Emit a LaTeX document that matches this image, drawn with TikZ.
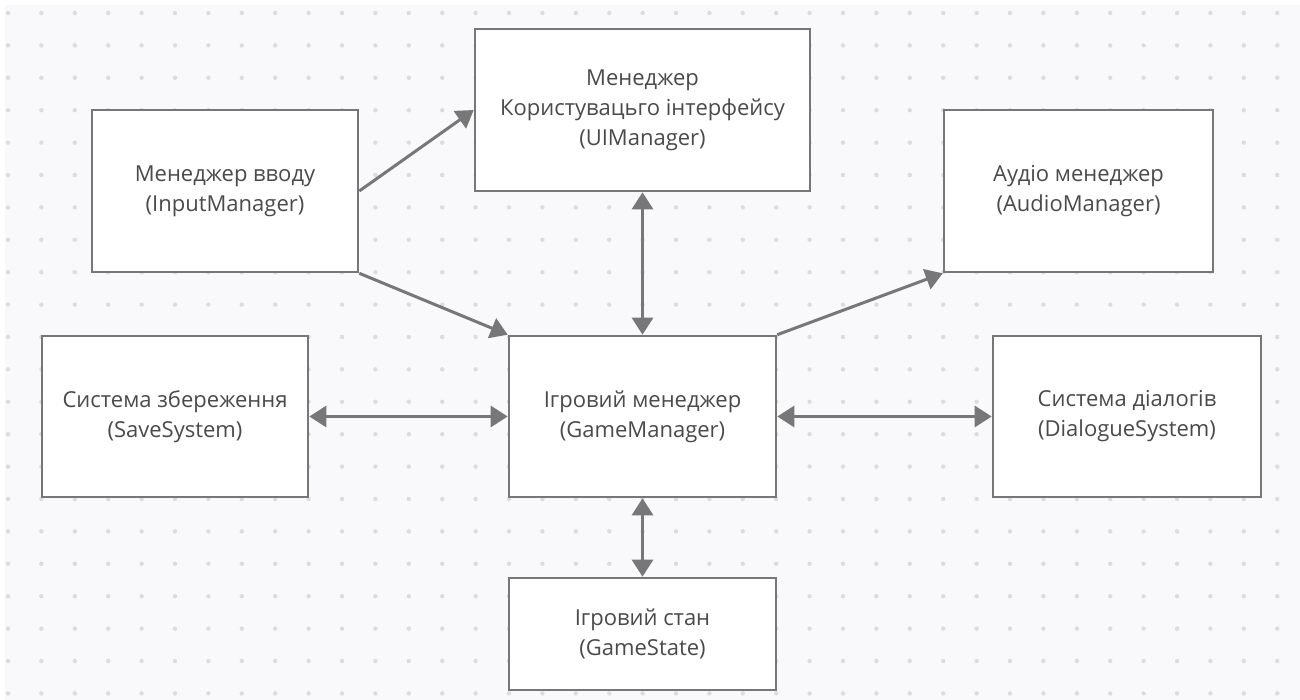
\documentclass[tikz,border=0pt]{standalone}
\usepackage{fontspec}
\setmainfont{Open Sans}
\usetikzlibrary{arrows.meta}
\definecolor{canvas}{HTML}{F9F9FB}
\definecolor{griddot}{HTML}{DCDCE0}
\definecolor{edge}{HTML}{777777}
\definecolor{ink}{HTML}{4A4A4A}
\tikzset{
  box/.style={draw=edge, line width=2.6pt, fill=white, align=center,
    text=ink, font=\fontsize{22}{30}\selectfont, inner sep=0pt},
  link/.style={draw=edge, line width=3pt,
    -{Triangle[length=17pt,width=21pt]}},
  dlink/.style={draw=edge, line width=3pt,
    {Triangle[length=17pt,width=21pt]}-{Triangle[length=17pt,width=21pt]}},
}
\begin{document}
\begin{tikzpicture}[x=1pt,y=-1pt]
  \useasboundingbox (0,0) rectangle (1300,700);
  % canvas with dotted grid
  \fill[white] (0,0) rectangle (1300,700);
  \fill[canvas] (5,5) rectangle (1300,700);
  \foreach \i in {0,...,38} {
    \foreach \j in {0,...,21} {
      \fill[griddot] ({8+33.4*\i},{13+32.4*\j}) circle (2.2);
    }
  }
  % components
  \node[box, minimum width=335, minimum height=162] (ui) at (642.5,110)
    {Менеджер\\Користувацьго інтерфейсу\\(UIManager)};
  \node[box, minimum width=266, minimum height=162] (inp) at (225,191)
    {Менеджер вводу\\(InputManager)};
  \node[box, minimum width=269, minimum height=162] (aud) at (1078.5,191)
    {Аудіо менеджер\\(AudioManager)};
  \node[box, minimum width=266, minimum height=161] (save) at (175,416.5)
    {Система збереження\\(SaveSystem)};
  \node[box, minimum width=267, minimum height=161] (gm) at (642.5,416.5)
    {Ігровий менеджер\\(GameManager)};
  \node[box, minimum width=268, minimum height=161] (dlg) at (1127,416.5)
    {Система діалогів\\(DialogueSystem)};
  \node[box, minimum width=267, minimum height=112] (gs) at (642.5,634)
    {Ігровий стан\\(GameState)};
  % connections
  \draw[link] (inp.east) -- (ui.west);
  \draw[link] (inp.south east) -- (gm.north west);
  \draw[link] (gm.north east) -- (aud.south west);
  \draw[dlink] (ui.south) -- (gm.north);
  \draw[dlink] (save.east) -- (gm.west);
  \draw[dlink] (gm.east) -- (dlg.west);
  \draw[dlink] (gm.south) -- (gs.north);
\end{tikzpicture}
\end{document}
